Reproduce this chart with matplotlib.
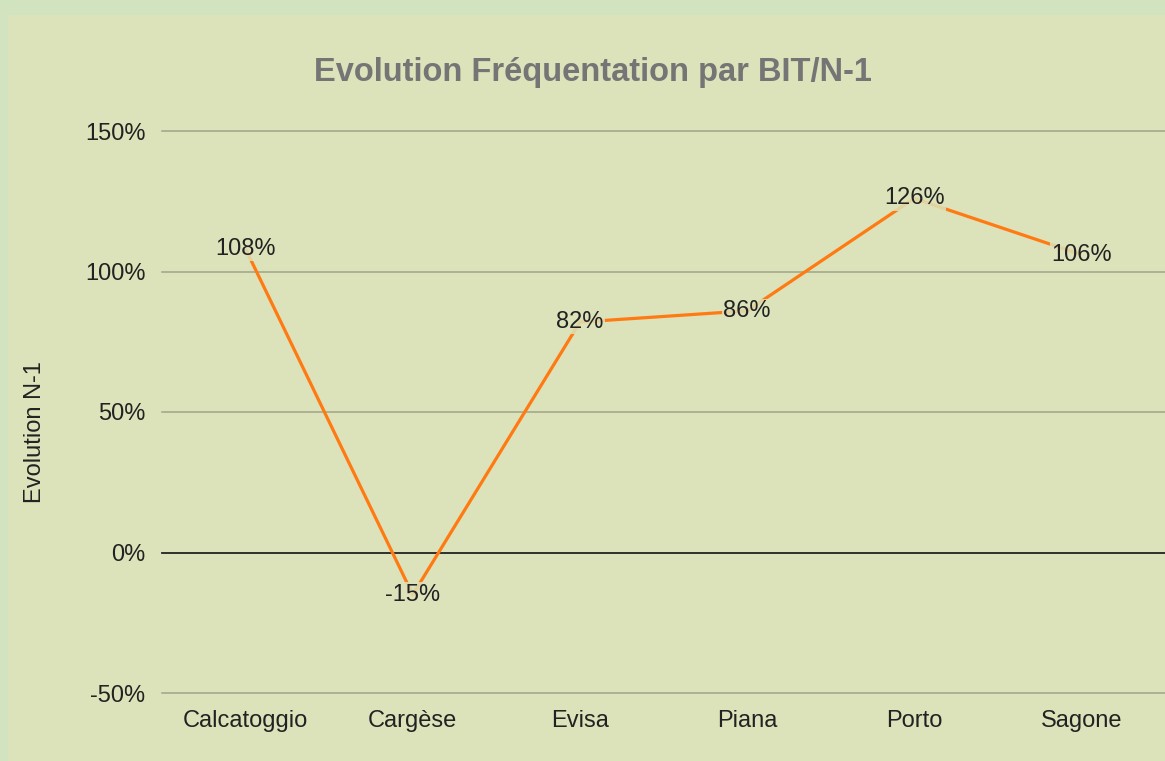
import matplotlib.pyplot as plt
from matplotlib.patches import Rectangle
from matplotlib.ticker import FuncFormatter

plt.rcParams['font.family'] = ['Liberation Sans', 'DejaVu Sans']

sites = ["Calcatoggio", "Cargèse", "Evisa", "Piana", "Porto", "Sagone"]
evolution = [108, -15, 82, 86, 126, 106]   # % vs N-1
yticks = [-50, 0, 50, 100, 150]

outer = "#d2e3bf"
panel = "#dce2b9"
orange = "#ff7a12"
fs = 17

fig = plt.figure(figsize=(11.65, 7.61), dpi=100)
fig.patch.set_facecolor(outer)
fig.patches.append(Rectangle((8/1165, 0), 1, 1 - 15/761, transform=fig.transFigure,
                             facecolor=panel, edgecolor="none", zorder=-5))

ax = fig.add_axes([162/1165, 1 - 693/761, 1 - 162/1165, (693 - 131)/761])
ax.set_facecolor("none")
x = range(len(sites))
ax.plot(x, evolution, color=orange, lw=2.3, zorder=3, solid_capstyle="butt")
for i, v in zip(x, evolution):
    ax.text(i, v, f"{v}%", ha="center", va="center", fontsize=fs, color="#222222", zorder=4,
            bbox=dict(boxstyle="square,pad=0.05", facecolor=panel, edgecolor="none", alpha=0.85))

ax.set_xlim(-0.5, 5.5)
ax.set_ylim(-50, 150)
ax.set_yticks(yticks)
ax.yaxis.set_major_formatter(FuncFormatter(lambda v, p: f"{v:.0f}%"))
ax.set_xticks(list(x))
ax.set_xticklabels(sites)
ax.tick_params(length=0, labelsize=fs, labelcolor="#222222")
ax.tick_params(axis="y", pad=12)
ax.tick_params(axis="x", pad=12)
for t in yticks:
    if t == 0:
        ax.axhline(t, color="#222222", lw=1.3, zorder=2, clip_on=False)
    else:
        ax.axhline(t, color="#a0a48a", lw=1.1, zorder=1, clip_on=False)
for s in ax.spines.values():
    s.set_visible(False)

fig.text(35/1165, 1 - 432/761, "Evolution N-1", rotation=90, ha="center", va="center",
         fontsize=fs, color="#222222")
fig.text(593/1165, 1 - 73/761, "Evolution Fréquentation par BIT/N-1", ha="center", va="center",
         fontsize=23.5, fontweight="bold", color="#757575")

fig.savefig("out.png", dpi=100, facecolor=outer)
